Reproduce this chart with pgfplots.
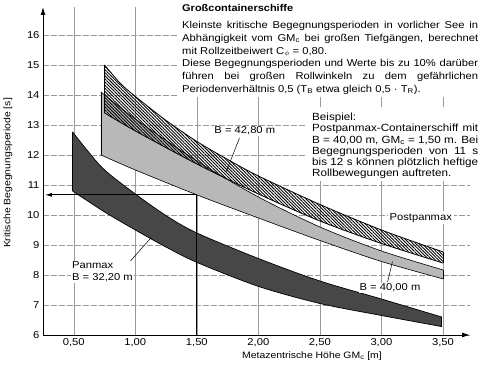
\documentclass[border=0pt]{standalone}
\usepackage{pgfplots}
\pgfplotsset{compat=1.18}
\usepackage{pgfplotstable}
\usepgfplotslibrary{fillbetween}
\usetikzlibrary{patterns.meta,arrows.meta}
\usepackage{fontspec}
\setmainfont{Liberation Sans}[FakeStretch=1.12]

% Panmax B = 32,20 m
\pgfplotstableread{
x y
0.49 12.77
0.60 12.20
0.75 11.50
1.00 10.70
1.25 9.98
1.50 9.40
2.00 8.55
2.50 7.80
3.00 7.20
3.49 6.60
}\Dup
\pgfplotstableread{
x y
0.49 10.80
0.75 10.10
1.00 9.50
1.25 8.93
1.50 8.42
2.00 7.62
2.50 7.05
3.00 6.65
3.49 6.28
}\Dlo
% B = 40,00 m
\pgfplotstableread{
x y
0.72 14.10
1.00 13.20
1.50 11.80
2.00 10.60
2.50 9.60
3.00 8.80
3.50 8.17
}\Gup
\pgfplotstableread{
x y
0.72 12.00
1.00 11.50
1.50 10.67
2.00 9.90
2.50 9.15
3.00 8.45
3.50 7.87
}\Glo
% B = 42,80 m
\pgfplotstableread{
x y
0.75 15.00
0.875 14.40
1.00 13.95
1.25 13.15
1.50 12.45
1.75 11.85
2.00 11.30
2.50 10.35
3.00 9.50
3.50 8.77
}\Hup
\pgfplotstableread{
x y
0.75 13.40
1.00 12.80
1.50 11.70
2.00 10.70
2.50 9.80
3.00 9.05
3.50 8.40
}\Hlo

\newcommand\jl[2]{\makebox[#1][s]{#2}}

\begin{document}
\begin{tikzpicture}
\begin{axis}[
  at={(43pt,31pt)}, anchor=south west,
  width=427pt, height=328pt, scale only axis,
  xmin=0.25, xmax=3.72, ymin=6, ymax=16.93,
  axis lines=left,
  axis line style={line width=0.9pt, -{Latex[length=8pt,width=5pt]}},
  xtick={0.5,1,1.5,2,2.5,3,3.5},
  xticklabels={{0,50},{1,00},{1,50},{2,00},{2,50},{3,00},{3,50}},
  ytick={6,7,8,9,10,11,12,13,14,15,16},
  major tick length=0pt,
  grid=major,
  major grid style={black!40, line width=0.5pt},
  major y grid style={black!40, line width=0.5pt, dash pattern=on 6pt off 2pt},
  tick label style={font=\fontsize{10}{12}\selectfont},
  /pgf/number format/assume math mode=true,
  clip=false,
]
% named paths
\addplot[name path=D1, draw=none, smooth] table {\Dup};
\addplot[name path=D2, draw=none, smooth] table {\Dlo};
\addplot[name path=G1, draw=none, smooth] table {\Gup};
\addplot[name path=G2, draw=none, smooth] table {\Glo};
\addplot[name path=H1, draw=none, smooth] table {\Hup};
\addplot[name path=H2, draw=none, smooth] table {\Hlo};
% fills
\addplot[fill=black!72, draw=none] fill between[of=D1 and D2];
\addplot[fill=black!28, draw=none] fill between[of=G1 and G2];
\addplot[pattern={Lines[angle=-45,distance=2.2pt,line width=0.9pt]}, pattern color=black, draw=none] fill between[of=H1 and H2];
% outlines
\addplot[black, line width=0.7pt, smooth] table {\Dup};
\addplot[black, line width=0.7pt, smooth] table {\Dlo};
\addplot[black, line width=0.7pt] coordinates {(0.49,10.80) (0.49,12.77)};
\addplot[black, line width=0.7pt] coordinates {(3.49,6.28) (3.49,6.60)};
\addplot[black, line width=0.6pt, smooth] table {\Gup};
\addplot[black, line width=0.6pt, smooth] table {\Glo};
\addplot[black, line width=0.6pt] coordinates {(0.72,12.00) (0.72,14.10)};
\addplot[black, line width=0.6pt] coordinates {(3.50,7.87) (3.50,8.17)};
\addplot[black, line width=0.8pt, smooth] table {\Hup};
\addplot[black, line width=0.8pt, smooth] table {\Hlo};
\addplot[black, line width=0.8pt] coordinates {(0.75,13.40) (0.75,15.00)};
\addplot[black, line width=0.8pt] coordinates {(3.50,8.40) (3.50,8.77)};
% example
\addplot[black, line width=1pt] coordinates {(1.5,6) (1.5,10.67)};
\addplot[black, line width=1pt, -{Latex[length=7pt,width=4pt]}] coordinates {(1.5,10.67) (0.265,10.67)};
% leaders
\addplot[black, line width=0.5pt] coordinates {(1.847,12.57) (1.74,11.45)};
\addplot[black, line width=0.5pt] coordinates {(3.05,7.76) (3.09,8.45)};
\addplot[black, line width=0.5pt] coordinates {(0.91,8.23) (1.13,9.25)};
% labels
\node[fill=white, inner sep=1pt, font=\fontsize{10}{12}\selectfont] at (axis cs:1.89,12.8) {B = 42,80 m};
\node[fill=white, inner sep=1pt, font=\fontsize{10}{12}\selectfont] at (axis cs:3.07,7.57) {B = 40,00 m};
\node[fill=white, inner sep=2pt, font=\fontsize{10}{12}\selectfont] at (axis cs:3.32,9.9) {Postpanmax};
\node[fill=white, inner sep=1pt, anchor=west, align=left, font=\fontsize{10}{12}\selectfont] at (axis cs:0.477,8.1) {Panmax\\B = 32,20 m};
\end{axis}
% axis titles
\node[font=\fontsize{9.3}{11}\selectfont] at (312pt,10pt) {Metazentrische Höhe GM\textsubscript{c} [m]};
\node[rotate=90, font=\fontsize{9.3}{11}\selectfont] at (8pt,193pt) {Kritische Begegnungsperiode [s]};
% upper text block
\fill[white] (178pt,269pt) rectangle (482pt,366pt);
\begin{scope}[every node/.style={anchor=base west, inner sep=0pt, font=\fontsize{10}{12}\selectfont}]
\node[font=\fontsize{9.8}{12}\selectfont\bfseries] at (182pt,354.5pt) {Großcontainerschiffe};
\node at (182pt,337.5pt) {\jl{296pt}{Kleinste kritische Begegnungsperioden in vorlicher See in}};
\node at (182pt,324.7pt) {\jl{296pt}{Abhängigkeit vom GM\textsubscript{c} bei großen Tiefgängen, berechnet}};
\node at (182pt,311.9pt) {mit Rollzeitbeiwert C\textsubscript{\ensuremath{\phi}} = 0,80.};
\node at (182pt,299.1pt) {\jl{296pt}{Diese Begegnungsperioden und Werte bis zu 10\% darüber}};
\node at (182pt,286.3pt) {\jl{296pt}{führen bei großen Rollwinkeln zu dem gefährlichen}};
\node at (182pt,273.5pt) {Periodenverhältnis 0,5 (T\textsubscript{B} etwa gleich 0,5 · T\textsubscript{R}).};
\end{scope}
% example text block
\fill[white] (305pt,185pt) rectangle (482pt,259pt);
\begin{scope}[every node/.style={anchor=base west, inner sep=0pt, font=\fontsize{10.4}{12}\selectfont}]
\node at (312pt,245.5pt) {Beispiel:};
\node at (312pt,234.2pt) {\jl{166pt}{Postpanmax-Containerschiff mit}};
\node at (312pt,222.9pt) {\jl{166pt}{B = 40,00 m, GM\textsubscript{c} = 1,50 m. Bei}};
\node at (312pt,211.6pt) {\jl{166pt}{Begegnungsperioden von 11 s}};
\node at (312pt,200.3pt) {\jl{166pt}{bis 12 s können plötzlich heftige}};
\node at (312pt,189.0pt) {Rollbewegungen auftreten.};
\end{scope}
\pgfresetboundingbox
\path[use as bounding box] (0,0) rectangle (482pt,366pt);
\end{tikzpicture}
\end{document}
